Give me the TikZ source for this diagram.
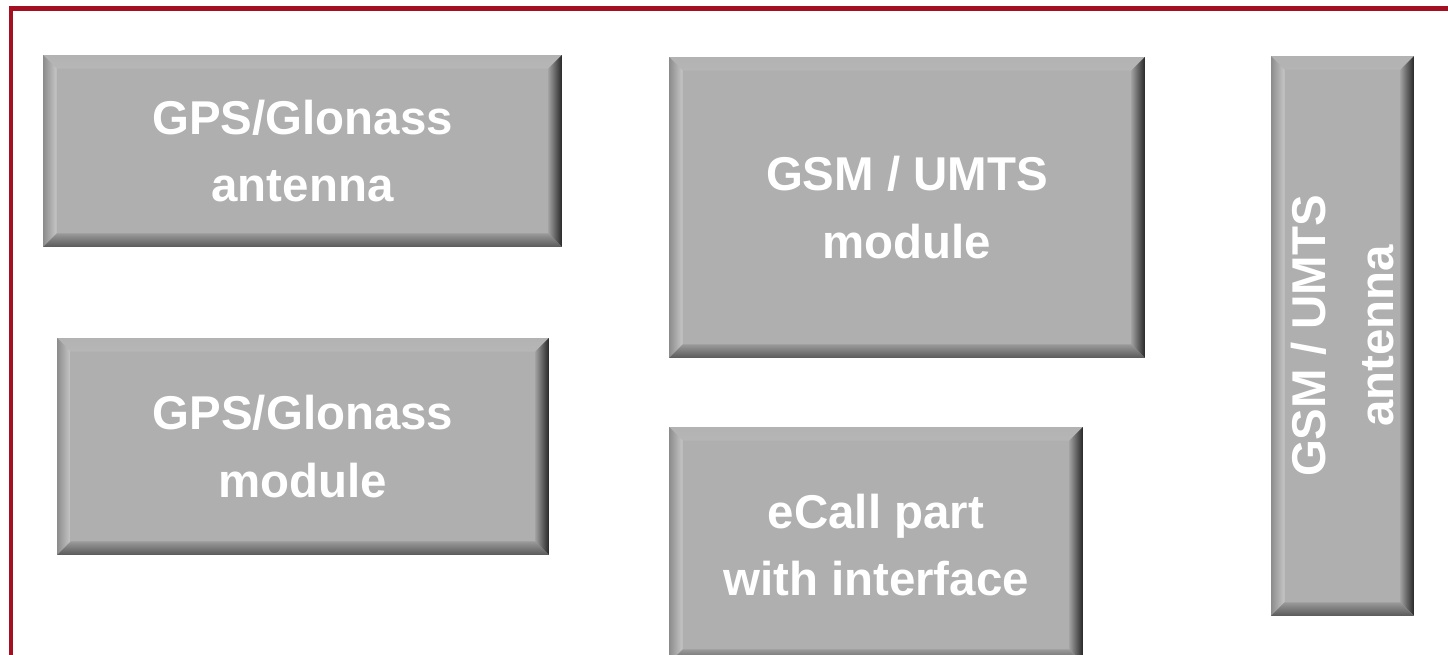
\documentclass[tikz,border=0pt]{standalone}
\usepackage{fontspec}
\setsansfont{Liberation Sans}
\usetikzlibrary{positioning}

\definecolor{framered}{HTML}{A50F22}
\definecolor{panelfill}{HTML}{AFAFAF}
\newcommand{\bev}{0.27cm}

\begin{document}
\begin{tikzpicture}[
    x=0.02cm, y=-0.02cm,
    panel/.style={fill=panelfill,draw=none,inner sep=0pt,
      text=white,align=center,
      font=\sffamily\bfseries\fontsize{27}{38.6}\selectfont,
      path picture={
        % bevelled edges: light on top and left, dark on right and bottom
        \shade[top color=black!30,bottom color=black!8]
          (path picture bounding box.north west) -- (path picture bounding box.north east)
          -- ([shift={(-\bev,-\bev)}]path picture bounding box.north east)
          -- ([shift={(\bev,-\bev)}]path picture bounding box.north west) -- cycle;
        \shade[left color=black!45,right color=black!22]
          (path picture bounding box.north west)
          -- ([shift={(\bev,-\bev)}]path picture bounding box.north west)
          -- ([shift={(\bev,\bev)}]path picture bounding box.south west)
          -- (path picture bounding box.south west) -- cycle;
        \shade[left color=black!38,right color=black!85]
          (path picture bounding box.north east)
          -- ([shift={(-\bev,-\bev)}]path picture bounding box.north east)
          -- ([shift={(-\bev,\bev)}]path picture bounding box.south east)
          -- (path picture bounding box.south east) -- cycle;
        \shade[top color=black!40,bottom color=black!65]
          (path picture bounding box.south west)
          -- ([shift={(\bev,\bev)}]path picture bounding box.south west)
          -- ([shift={(-\bev,\bev)}]path picture bounding box.south east)
          -- (path picture bounding box.south east) -- cycle;
      }},
    paneltext/.style={text=white,align=center,inner sep=0pt,
      font=\sffamily\bfseries\fontsize{27}{38.6}\selectfont}
]
\path[use as bounding box] (0,0) rectangle (1448,655);

\draw[framered,line width=0.1cm] (11,9) rectangle (1470,680);

\node[panel,minimum width=10.38cm,minimum height=3.84cm] (gpsant) at (302.5,151)
    {GPS/Glonass\\antenna};
\node[panel,minimum width=9.84cm,minimum height=4.34cm] (gpsmod) at (303,446.5)
    {GPS/Glonass\\module};
\node[panel,minimum width=9.52cm,minimum height=6.02cm] (gsmmod) at (907,207.5)
    {GSM / UMTS\\module};
\node[panel,minimum width=8.28cm,minimum height=4.72cm] (ecall) at (876,545)
    {eCall part\\with interface};
\node[panel,minimum width=2.86cm,minimum height=11.2cm] (gsmant) at (1342.5,336) {};
\node[paneltext,rotate=90] (gsmantlabel) at (gsmant.center) {GSM / UMTS\\antenna};
\end{tikzpicture}
\end{document}
